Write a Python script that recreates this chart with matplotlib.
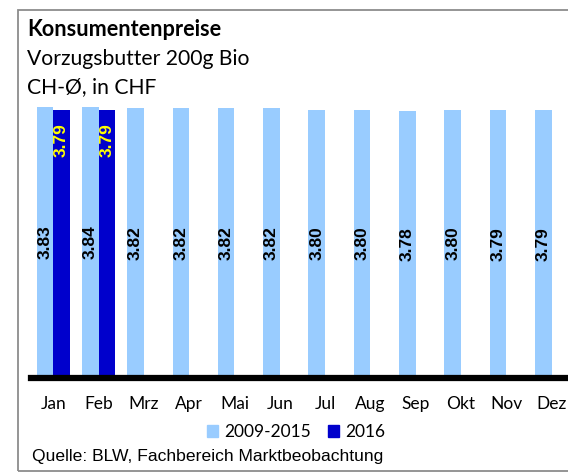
import numpy as np
import matplotlib
matplotlib.use("Agg")
import matplotlib.pyplot as plt
from matplotlib.patches import Patch, Rectangle

months = ['Jan', 'Feb', 'Mrz', 'Apr', 'Mai', 'Jun', 'Jul', 'Aug', 'Sep', 'Okt', 'Nov', 'Dez']
avg_2009_2015 = [3.83, 3.84, 3.82, 3.82, 3.82, 3.82, 3.80, 3.80, 3.78, 3.80, 3.79, 3.79]
val_2016 = [3.79, 3.79]  # only Jan, Feb available

light = '#99ccff'
dark = '#0000cc'
W, H = 568, 475
sans = 'Lato'

fig = plt.figure(figsize=(W / 100, H / 100), dpi=100)

# frame around the chart (runs off the right edge like the original)
fig.patches.append(Rectangle((17.5 / W, 1 - 471 / H), 600 / W, (471 - 9.5) / H,
                             transform=fig.transFigure, fill=False,
                             edgecolor='#8c8c8c', linewidth=1.3))

ax = fig.add_axes([30.65 / W, (H - 377.5) / H, 543.6 / W, 282 / H])
x = np.arange(len(months))
bw = 0.368

b1 = ax.bar(x - bw / 2, avg_2009_2015, width=bw, color=light, zorder=2)
x16 = x[:len(val_2016)]
b2 = ax.bar(x16 + bw / 2, val_2016, width=bw, color=dark, zorder=2)

for rect, v in zip(b1, avg_2009_2015):
    ax.text(rect.get_x() + rect.get_width() / 2, v / 2, f'{v:.2f}', rotation=90,
            ha='center', va='center', fontsize=12.5, fontweight='bold',
            family='Liberation Sans', color='black', zorder=3)
for rect, v in zip(b2, val_2016):
    ax.annotate(f'{v:.2f}', (rect.get_x() + rect.get_width() / 2, v),
                xytext=(0, -9), textcoords='offset points', rotation=90,
                ha='center', va='top', fontsize=12.5, fontweight='bold',
                family='Liberation Sans', color='#ffff00', zorder=3)

ax.axhline(0, color='black', linewidth=4.5, zorder=4, clip_on=False)
ax.set_xlim(-0.5, 11.5)
ax.set_ylim(0, 4.0)
ax.set_yticks([])
ax.set_xticks(x)
ax.set_xticklabels(months, fontsize=12.5, family=sans)
ax.tick_params(axis='x', length=0, pad=13.5)
for s in ax.spines.values():
    s.set_visible(False)
ax.patch.set_alpha(0)

fig.text(27 / W, 1 - 29 / H, 'Konsumentenpreise', fontsize=15.6, fontweight='bold',
         family=sans, va='center', ha='left')
fig.text(27 / W, 1 - 59 / H, 'Vorzugsbutter 200g Bio', fontsize=15.2,
         family=sans, va='center', ha='left')
fig.text(27 / W, 1 - 87 / H, 'CH-\u00d8, in CHF', fontsize=15.2,
         family=sans, va='center', ha='left')

handles = [Patch(color=light, label='2009-2015'), Patch(color=dark, label='2016')]
fig.legend(handles=handles, loc='center', bbox_to_anchor=(296 / W, 1 - 432 / H),
           ncol=2, frameon=False, prop={'family': sans, 'size': 12.5},
           handlelength=0.62, handleheight=0.62, handletextpad=0.35,
           columnspacing=1.0, borderpad=0, borderaxespad=0)

fig.text(32 / W, 1 - 457 / H, 'Quelle: BLW, Fachbereich Marktbeobachtung',
         fontsize=12.6, family='Liberation Sans', va='center', ha='left')

fig.savefig('out.png', dpi=100)
